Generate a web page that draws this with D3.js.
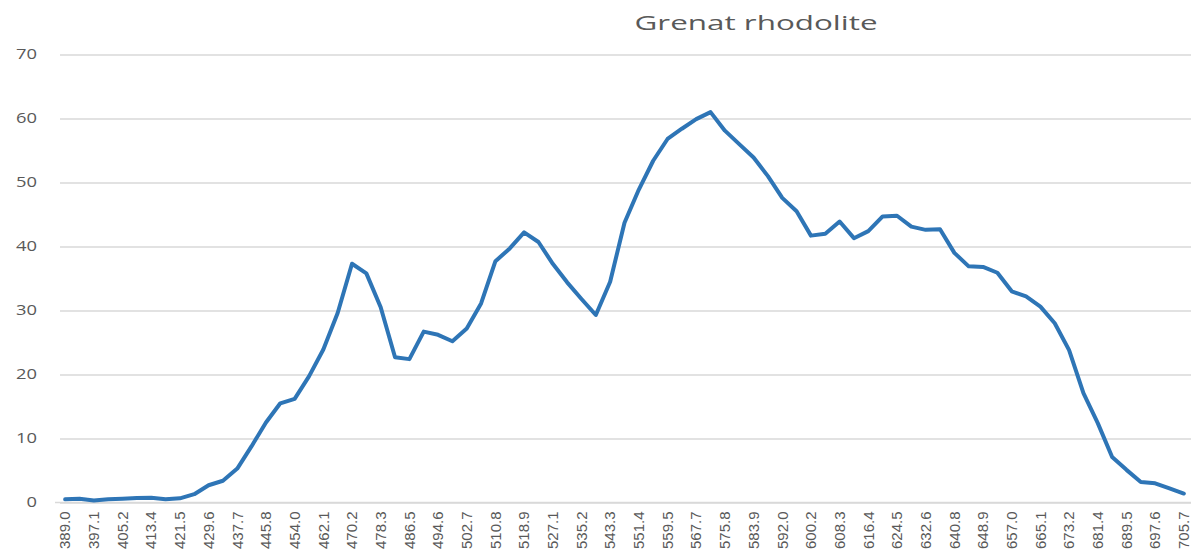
<!DOCTYPE html>
<html>
<head>
<meta charset="utf-8">
<script src="https://cdn.jsdelivr.net/npm/d3@7"></script>
<style>
  html, body { margin: 0; padding: 0; background: #ffffff; }
  svg { display: block; }
</style>
</head>
<body>
<svg id="chart" width="1195" height="549"></svg>
<script>
// Wavelengths (nm) of the sampled spectrum
const wavelengths = [
  "389.0","393.1","397.1","401.2","405.2","409.3","413.4","417.4","421.5","425.5",
  "429.6","433.7","437.7","441.8","445.8","449.9","454.0","458.0","462.1","466.1",
  "470.2","474.2","478.3","482.4","486.5","490.5","494.6","498.6","502.7","506.7",
  "510.8","514.9","518.9","523.0","527.1","531.1","535.2","539.2","543.3","547.4",
  "551.4","555.5","559.5","563.6","567.7","571.7","575.8","579.8","583.9","588.0",
  "592.0","596.1","600.2","604.2","608.3","612.3","616.4","620.4","624.5","628.6",
  "632.6","636.7","640.8","644.8","648.9","652.9","657.0","661.0","665.1","669.2",
  "673.2","677.3","681.4","685.4","689.5","693.5","697.6","701.6","705.7"
];

// Measured intensity at each wavelength
const intensity = [
  0.5, 0.6, 0.3, 0.5, 0.6, 0.7, 0.75, 0.5, 0.65, 1.3,
  2.7, 3.4, 5.3, 8.8, 12.5, 15.5, 16.2, 19.7, 23.9, 29.6,
  37.3, 35.8, 30.5, 22.7, 22.4, 26.7, 26.2, 25.2, 27.2, 31.1,
  37.7, 39.7, 42.2, 40.7, 37.3, 34.4, 31.8, 29.3, 34.5, 43.7,
  48.9, 53.4, 56.8, 58.4, 59.9, 61.0, 58.1, 56.0, 53.9, 51.0,
  47.6, 45.5, 41.7, 42.0, 43.9, 41.3, 42.4, 44.7, 44.8, 43.1,
  42.6, 42.7, 39.0, 36.9, 36.8, 35.9, 33.0, 32.2, 30.6, 28.0,
  23.8, 17.1, 12.4, 7.1, 5.1, 3.2, 3.0, 2.2, 1.4
];

// Value-axis ticks
const yTicks = [0, 10, 20, 30, 40, 50, 60, 70];

const chartTitle = "Grenat rhodolite";

const svg = d3.select("#chart");
const plot = { left: 58, right: 1191, top: 54.5, bottom: 502.5 };

const x = d3.scaleBand()
  .domain(wavelengths)
  .range([plot.left, plot.right]);

const y = d3.scaleLinear()
  .domain([0, 70])
  .range([plot.bottom, plot.top]);

const textColor = "#595959";
const gridColor = "#d9d9d9";

// Horizontal gridlines and value labels
const yAxis = d3.axisLeft(y)
  .tickValues(yTicks)
  .tickSize(-(plot.right - 60))
  .tickPadding(23)
  .tickFormat(d3.format("d"));

const gy = svg.append("g")
  .attr("transform", `translate(60,0)`)
  .call(yAxis);
gy.select(".domain").remove();
gy.selectAll(".tick line")
  .attr("stroke", gridColor)
  .attr("stroke-width", 1.3);
gy.selectAll(".tick text")
  .attr("fill", textColor)
  .attr("textLength", d => String(d).length * 10.5)
  .attr("lengthAdjust", "spacingAndGlyphs")
  .style("font-family", "'Open Sans', 'DejaVu Sans', sans-serif")
  .style("font-size", "14px");

// Category axis with every second wavelength labelled
const xAxis = d3.axisBottom(x)
  .tickValues(wavelengths.filter((d, i) => i % 2 === 0))
  .tickSize(0)
  .tickPadding(0);

const gx = svg.append("g")
  .attr("transform", `translate(0,${plot.bottom})`)
  .call(xAxis);
gx.select(".domain")
  .attr("d", `M${plot.left - 3},0H${plot.right}`)
  .attr("stroke", gridColor)
  .attr("stroke-width", 1.5);
gx.selectAll(".tick text")
  .attr("fill", textColor)
  .attr("transform", "rotate(-90)")
  .attr("x", -9)
  .attr("y", 0)
  .attr("dy", "0.35em")
  .attr("text-anchor", "end")
  .style("font-family", "'Liberation Sans Narrow', 'Arial Narrow', sans-serif")
  .style("font-size", "15px");

// Spectrum line
const line = d3.line()
  .x((d, i) => x(wavelengths[i]) + x.bandwidth() / 2)
  .y(d => y(d));

svg.append("path")
  .datum(intensity)
  .attr("fill", "none")
  .attr("stroke", "#2e75b6")
  .attr("stroke-width", 4)
  .attr("stroke-linejoin", "round")
  .attr("stroke-linecap", "round")
  .attr("d", line);

// Title
svg.append("text")
  .attr("x", 756)
  .attr("y", 30)
  .attr("text-anchor", "middle")
  .attr("fill", textColor)
  .attr("textLength", 243)
  .attr("lengthAdjust", "spacingAndGlyphs")
  .style("font-family", "'Open Sans', 'DejaVu Sans', sans-serif")
  .style("font-size", "20px")
  .text(chartTitle);
</script>
</body>
</html>
